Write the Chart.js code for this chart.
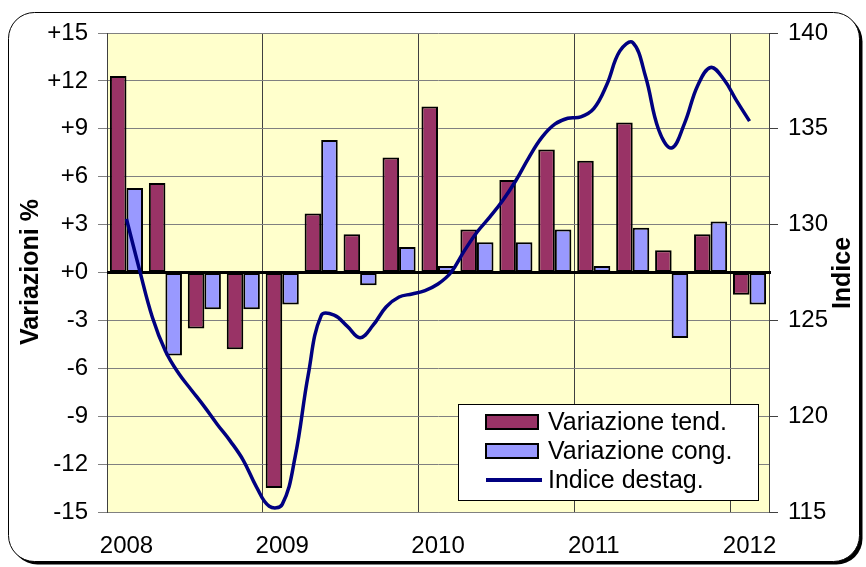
<!DOCTYPE html>
<html>
<head>
<meta charset="utf-8">
<script src="https://cdn.jsdelivr.net/npm/chart.js@4.4.1/dist/chart.umd.min.js"></script>
<style>
  html, body { margin: 0; padding: 0; background: #fff; }
  canvas { display: block; }
</style>
</head>
<body>
<canvas id="grafico" width="866" height="567"></canvas>
<script>
// ── DATI ─────────────────────────────────────────────────────────
// trimestri 2008 T1 .. 2012 T1 (posizione 0..16 sull'asse x)
const trimestri = [
    '2008 T1', '2008 T2', '2008 T3', '2008 T4',
    '2009 T1', '2009 T2', '2009 T3', '2009 T4',
    '2010 T1', '2010 T2', '2010 T3', '2010 T4',
    '2011 T1', '2011 T2', '2011 T3', '2011 T4',
    '2012 T1'
]
const anni = ['2008', '2009', '2010', '2011', '2012']

const variazioneTend = [12.3, 5.6, -3.5, -4.8, -13.5, 3.7, 2.4, 7.2, 10.4, 2.7, 5.8, 7.7, 7.0, 9.4, 1.4, 2.4, -1.4]
const variazioneCong = [5.3, -5.2, -2.3, -2.3, -2.0, 8.3, -0.8, 1.6, 0.4, 1.9, 1.9, 2.7, 0.4, 2.8, -4.1, 3.2, -2.0]

// indice destagionalizzato mensile, gen 2008 - gen 2012
const indiceDestag = [
    130.3, 127.65, 125.15, 123.4, 122.25, 121.37, 120.5, 119.57, 118.7, 117.7, 116.33, 115.3,
    115.4, 117.9, 122.15, 125.25, 125.27, 124.7, 124.1, 124.75, 125.7, 126.22, 126.38, 126.56,
    126.9, 127.5, 128.6, 129.6, 130.4, 131.27, 132.3, 133.5, 134.55, 135.24, 135.55, 135.62,
    136.05, 137.3, 139.05, 139.5, 137.7, 134.95, 134.0, 135.3, 137.25, 138.2, 137.6, 136.47,
    135.4
]

const titoloSinistra = 'Variazioni %'
const titoloDestra   = 'Indice'

const FONT = 'Arial, "Liberation Sans", sans-serif'

// ── PLUGIN: cornice, sfondo, linea dello zero, titoli e legenda ──
const cornice = {
    id: 'cornice',
    beforeDraw(chart) {
        const { ctx, chartArea: a } = chart
        ctx.save()
        ctx.fillStyle = '#fff'
        ctx.fillRect(0, 0, chart.width, chart.height)
        // ombra
        ctx.fillStyle = '#000'
        ctx.beginPath()
        ctx.roundRect(11.5, 15.5, 851, 549, 26)
        ctx.fill()
        ctx.fillStyle = '#fff'
        ctx.beginPath()
        ctx.roundRect(8.5, 12.5, 851, 549, 26)
        ctx.fill()
        ctx.strokeStyle = '#000'
        ctx.lineWidth = 1
        ctx.stroke()
        // area del grafico
        ctx.fillStyle = '#FFFFCC'
        ctx.fillRect(a.left, a.top, a.right - a.left, a.bottom - a.top)
        ctx.restore()
    },
    afterDatasetDraw(chart, args) {
        // asse dello zero sopra le barre, sotto la linea
        if (args.index !== 0) return
        const { ctx, chartArea: a } = chart
        const y0 = chart.scales.y.getPixelForValue(0)
        ctx.save()
        ctx.strokeStyle = '#000'
        ctx.lineWidth = 3
        ctx.beginPath()
        ctx.moveTo(a.left, y0)
        ctx.lineTo(a.right + 2, y0)
        ctx.stroke()
        ctx.restore()
    },
    afterDraw(chart) {
        const { ctx } = chart
        ctx.save()
        ctx.fillStyle = '#000'
        ctx.font = 'bold 25px ' + FONT
        ctx.textAlign = 'center'
        ctx.textBaseline = 'middle'
        ;[[titoloSinistra, 31, 272], [titoloDestra, 843, 273]].forEach(([t, x, y]) => {
            ctx.save()
            ctx.translate(x, y)
            ctx.rotate(-Math.PI / 2)
            ctx.fillText(t, 0, 0)
            ctx.restore()
        })

        // legenda
        const lx = 458.5, ly = 404.5, lw = 300, lh = 96
        ctx.fillStyle = '#fff'
        ctx.fillRect(lx, ly, lw, lh)
        ctx.strokeStyle = '#000'
        ctx.lineWidth = 1
        ctx.strokeRect(lx, ly, lw, lh)

        ctx.font = '25px ' + FONT
        ctx.textAlign = 'left'
        chart.data.datasets.forEach((ds, i) => {
            const cy = 422 + i * 29
            if (ds.type === 'line') {
                ctx.strokeStyle = ds.borderColor
                ctx.lineWidth = 4
                ctx.beginPath()
                ctx.moveTo(486, cy)
                ctx.lineTo(542, cy)
                ctx.stroke()
            } else {
                ctx.fillStyle = ds.backgroundColor
                ctx.fillRect(486, cy - 7, 52, 14)
                ctx.strokeStyle = '#000'
                ctx.lineWidth = 2
                ctx.strokeRect(486, cy - 7, 52, 14)
            }
            ctx.fillStyle = '#000'
            ctx.fillText(ds.label, 548, cy + 1)
        })
        ctx.restore()
    }
}

// ── GRAFICO ──────────────────────────────────────────────────────
// un solo asse x lineare: barre sui trimestri (0..16), linea sui mesi (passo 1/3)
new Chart(document.getElementById('grafico').getContext('2d'), {
    data: {
        datasets: [
            {
                type: 'bar', label: 'Variazione tend.',
                data: variazioneTend.map((v, i) => ({ x: i, y: v, t: trimestri[i] })),
                backgroundColor: '#993366', borderColor: '#000', borderWidth: 2, borderSkipped: false,
                yAxisID: 'y', categoryPercentage: 0.85, barPercentage: 1.0
            },
            {
                type: 'bar', label: 'Variazione cong.',
                data: variazioneCong.map((v, i) => ({ x: i, y: v, t: trimestri[i] })),
                backgroundColor: '#9999FF', borderColor: '#000', borderWidth: 2, borderSkipped: false,
                yAxisID: 'y', categoryPercentage: 0.85, barPercentage: 1.0
            },
            {
                type: 'line', label: 'Indice destag.',
                data: indiceDestag.map((v, i) => ({ x: i / 3, y: v })),
                borderColor: '#000080', borderWidth: 3.5, pointRadius: 0, tension: 0.4, fill: false,
                yAxisID: 'y2', order: -1
            }
        ]
    },
    options: {
        responsive: false,
        animation: false,
        devicePixelRatio: 1,
        layout: { padding: { top: 33, left: 0, right: 0, bottom: 0 } },
        plugins: { legend: { display: false }, tooltip: { enabled: false } },
        scales: {
            x: {
                type: 'linear', min: -0.5, max: 16.5, offset: false,
                afterBuildTicks: s => {
                    // linee verticali all'inizio di ogni anno + bordo destro
                    s.ticks = anni.map((a, k) => ({ value: 4 * k - 0.5 })).concat([{ value: 16.5 }])
                },
                grid: { offset: false, drawTicks: false, color: '#404040' },
                border: { color: '#808080' },
                ticks: {
                    autoSkip: false, maxRotation: 0, minRotation: 0, padding: 20,
                    labelOffset: 19.5,
                    color: '#000', font: { family: FONT, size: 24 },
                    callback: (v, i) => anni[i] || ''
                },
                afterFit: s => { s.height = 55 }
            },
            y: {
                position: 'left', min: -15, max: 15,
                grid: { color: '#808080', tickLength: 9 },
                border: { color: '#404040' },
                ticks: {
                    stepSize: 3, padding: 10, color: '#000', font: { family: FONT, size: 24 },
                    callback: v => (v >= 0 ? '+' : '') + v
                },
                afterFit: s => { s.width = 107 }
            },
            y2: {
                position: 'right', min: 115, max: 140,
                grid: { drawOnChartArea: false, tickLength: 9, color: '#404040' },
                border: { color: '#404040' },
                ticks: { stepSize: 5, padding: 10, color: '#000', font: { family: FONT, size: 24 } },
                afterFit: s => { s.width = 97 }
            }
        }
    },
    plugins: [cornice]
})
</script>
</body>
</html>
